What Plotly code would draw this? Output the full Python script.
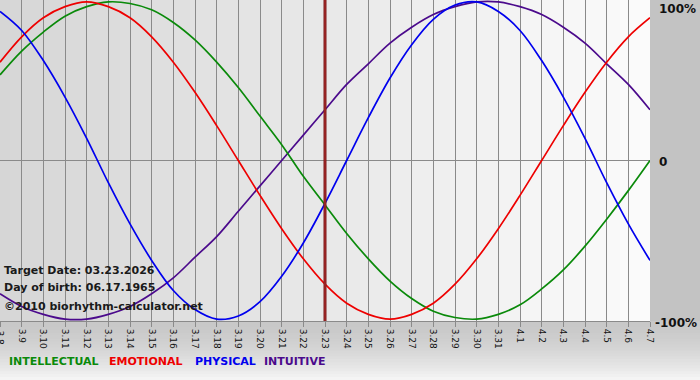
import plotly.graph_objects as go

# Day labels (March 8 .. April 7)
day_labels = ["3.8", "3.9", "3.10", "3.11", "3.12", "3.13", "3.14", "3.15", "3.16", "3.17",
              "3.18", "3.19", "3.20", "3.21", "3.22", "3.23", "3.24", "3.25", "3.26", "3.27",
              "3.28", "3.29", "3.30", "3.31", "4.1", "4.2", "4.3", "4.4", "4.5", "4.6", "4.7"]

physical = [0.94, 0.82, 0.63, 0.40, 0.14, -0.14, -0.40, -0.63, -0.82, -0.94,
            -1.00, -0.98, -0.89, -0.73, -0.52, -0.27, 0.00, 0.27, 0.52, 0.73,
            0.89, 0.98, 1.00, 0.94, 0.82, 0.63, 0.40, 0.14, -0.14, -0.40, -0.63]

emotional = [0.62, 0.78, 0.90, 0.97, 1.00, 0.97, 0.90, 0.78, 0.62, 0.43,
             0.22, 0.00, -0.22, -0.43, -0.62, -0.78, -0.90, -0.97, -1.00, -0.97,
             -0.90, -0.78, -0.62, -0.43, -0.22, 0.00, 0.22, 0.43, 0.62, 0.78, 0.90]

intellectual = [0.54, 0.69, 0.81, 0.91, 0.97, 1.00, 0.99, 0.95, 0.87, 0.76,
                0.62, 0.46, 0.28, 0.10, -0.10, -0.28, -0.46, -0.62, -0.76, -0.87,
                -0.95, -0.99, -1.00, -0.97, -0.91, -0.81, -0.69, -0.54, -0.37, -0.19, 0.00]

intuitive = [-0.84, -0.92, -0.97, -1.00, -1.00, -0.97, -0.92, -0.84, -0.74, -0.61,
             -0.48, -0.32, -0.16, 0.00, 0.16, 0.32, 0.48, 0.61, 0.74, 0.84,
             0.92, 0.97, 1.00, 1.00, 0.97, 0.92, 0.84, 0.74, 0.61, 0.48, 0.32]

target_label = "3.23"
target_text = "Target Date: 03.23.2026"
birth_text = "Day of birth: 06.17.1965"
copyright_text = "\u00a92010 biorhythm-calculator.net"
y_labels = ["100%", "0", "-100%"]
y_label_vals = [1, 0, -1]

x = list(range(len(day_labels)))
target_x = day_labels.index(target_label)

W, H = 700, 380
L, R, T, B = 0, 50, 0, 59
PW, PH = W - L - R, H - T - B

FONT = "DejaVu Sans"
GREEN, RED, BLUE, PURPLE = "#0a8a0a", "#ee0000", "#0000ee", "#4b0a8c"

fig = go.Figure()
series = [("INTUITIVE", intuitive, PURPLE), ("INTELLECTUAL", intellectual, GREEN),
          ("EMOTIONAL", emotional, RED), ("PHYSICAL", physical, BLUE)]
for name, vals, col in series:
    fig.add_trace(go.Scatter(x=x, y=vals, mode="lines", name=name,
                             line=dict(color=col, width=1.7, shape="spline", smoothing=1.0),
                             hoverinfo="skip"))

shapes = []


def lerp(c1, c2, t):
    return "#%02x%02x%02x" % tuple(int(round(a + (b - a) * t)) for a, b in zip(c1, c2))


# plot area horizontal gradient
N = 65
for i in range(N):
    t = i / (N - 1)
    shapes.append(dict(type="rect", xref="paper", yref="paper",
                       x0=i / N, x1=(i + 1.3) / N if i < N - 1 else 1, y0=0, y1=1,
                       fillcolor=lerp((0xd6, 0xd6, 0xd6), (0xfb, 0xfb, 0xfb), t),
                       line=dict(width=0), layer="below"))

# bottom strip vertical gradient
M = 20
ybot = -B / PH
for j in range(M):
    t = j / (M - 1)
    y1 = ybot * j / M
    y0 = ybot * (j + 1.3) / M if j < M - 1 else ybot
    shapes.append(dict(type="rect", xref="paper", yref="paper",
                       x0=0, x1=W / PW, y0=y0, y1=y1,
                       fillcolor=lerp((0xc8, 0xc8, 0xc8), (0xf4, 0xf4, 0xf4), t ** 1.6),
                       line=dict(width=0), layer="below"))

# target date line
shapes.append(dict(type="line", xref="x", yref="paper", x0=target_x, x1=target_x,
                   y0=0, y1=1, line=dict(color="#7a1a1a", width=3), layer="above"))
shapes.append(dict(type="line", xref="x", yref="paper", x0=target_x, x1=target_x,
                   y0=0, y1=1, line=dict(color="#b02a2a", width=1), layer="above"))

annotations = []
for lab, v in zip(y_labels, y_label_vals):
    yshift = {1: -7, 0: -1, -1: -4}[v]
    annotations.append(dict(text="<b>%s</b>" % lab, xref="paper", yref="y", x=1, y=v,
                            xanchor="left", yanchor="middle", xshift=7 if v >= 0 else 3,
                            yshift=yshift, showarrow=False,
                            font=dict(family=FONT, size=12, color="#111111")))

# partially visible first tick label at the left edge
annotations.append(dict(text=day_labels[0], xref="x", yref="paper", x=0, y=0, yshift=-7,
                        xanchor="center", yanchor="top", textangle=90, showarrow=False,
                        font=dict(family=FONT, size=9, color="#111111")))

for txt, ypix in [(target_text, 270), (birth_text, 287), (copyright_text, 306)]:
    annotations.append(dict(text="<b>%s</b>" % txt, xref="paper", yref="paper",
                            x=0, xshift=2, y=(PH - ypix) / PH, xanchor="left", yanchor="middle",
                            showarrow=False, font=dict(family=FONT, size=11, color="#1a1a1a")))

legend_items = [("INTELLECTUAL", GREEN, 7), ("EMOTIONAL", RED, 107),
                ("PHYSICAL", BLUE, 193), ("INTUITIVE", PURPLE, 262)]
for txt, col, xpix in legend_items:
    annotations.append(dict(text="<b>%s</b>" % txt, xref="paper", yref="paper",
                            x=xpix / PW, y=(PH - 361) / PH, xanchor="left", yanchor="middle",
                            showarrow=False, font=dict(family=FONT, size=11, color=col)))

fig.update_layout(
    width=W, height=H,
    margin=dict(l=L, r=R, t=T, b=B, pad=0),
    paper_bgcolor="#c3c3c3",
    plot_bgcolor="rgba(0,0,0,0)",
    showlegend=False,
    shapes=shapes,
    annotations=annotations,
    xaxis=dict(range=[0, len(day_labels) - 1], tickmode="array", tickvals=x, ticktext=day_labels,
               tickangle=90, showgrid=True, gridcolor="#8a8a8a", gridwidth=1,
               ticks="outside", ticklen=5, tickcolor="#8a8a8a",
               showline=True, linecolor="#8a8a8a", linewidth=1, zeroline=False,
               tickfont=dict(family=FONT, size=9, color="#111111"), fixedrange=True),
    yaxis=dict(range=[-1.012, 1.012], tickmode="array", tickvals=[0], showticklabels=False,
               showgrid=True, gridcolor="#8a8a8a", gridwidth=1, zeroline=False,
               ticks="", fixedrange=True),
)

fig.write_html("out.html", config={"displayModeBar": False},
               post_script="document.body.style.margin='0px';document.body.style.overflow='hidden';")
